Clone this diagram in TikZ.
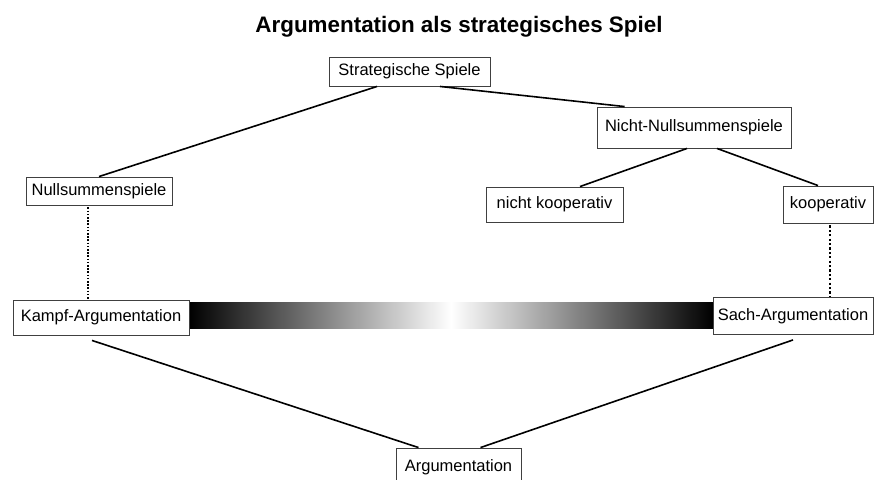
\documentclass[tikz,border=0pt]{standalone}
\usepackage{fontspec}
\setmainfont{Liberation Sans}
\begin{document}
\begin{tikzpicture}[x=1pt,y=-1pt,
  box/.style={draw=black!75,line width=0.9pt,fill=white,inner sep=0pt,
    font=\fontsize{16.5}{19}\selectfont,text=black},
  conn/.style={line width=1.6pt,black},
  dotthin/.style={line width=1.3pt,dash pattern=on 1.6pt off 1.6pt},
  dotthick/.style={line width=2.4pt,dash pattern=on 2.2pt off 2.2pt},
  title/.style={font=\fontsize{22.4}{26}\selectfont\bfseries,text=black}]
\useasboundingbox (0,0) rectangle (874,479);
\clip (0,0) rectangle (874,479);
\fill[white] (0,0) rectangle (874,479);

\node[title,anchor=base] (title) at (459,32) {Argumentation als strategisches Spiel};

% gradient bar
\shade[left color=black,right color=white] (189,302) rectangle (451,328);
\shade[left color=white,right color=black] (451,302) rectangle (713,328);

\node[box,minimum width=161pt,minimum height=29pt] (strat) at (409.5,71.5) {Strategische Spiele};
\node[box,minimum width=194pt,minimum height=41pt] (nicht) at (694,127.5) {Nicht-Nullsummenspiele};
\node[box,minimum width=146pt,minimum height=28pt] (null) at (99,191) {Nullsummenspiele};
\node[box,minimum width=137pt,minimum height=35pt] (nk) at (554.5,204.5) {nicht kooperativ};
\node[box,minimum width=90pt,minimum height=37pt] (koop) at (828,204.5) {kooperativ};
\node[box,minimum width=176pt,minimum height=35pt] (kampf) at (101,317.5) {Kampf-Argumentation};
\node[box,minimum width=160pt,minimum height=37pt] (sach) at (793,316) {Sach-Argumentation};
\node[box,minimum width=125pt,minimum height=38pt] (arg) at (458.5,467) {Argumentation};

\draw[conn] ([xshift=-32.5pt]strat.south) -- (null.north);
\draw[conn] ([xshift=30.5pt]strat.south) -- ([xshift=28pt]nicht.north west);
\draw[conn] ([xshift=-7pt]nicht.south) -- ([xshift=25.5pt]nk.north);
\draw[conn] ([xshift=23pt]nicht.south) -- ([xshift=-10pt]koop.north);
\draw[dotthin] ([xshift=-11pt,yshift=-2pt]null.south) -- ([xshift=-13pt]kampf.north);
\draw[dotthick] ([xshift=2pt,yshift=-2pt]koop.south) -- ([xshift=37pt]sach.north);
\draw[conn] ([xshift=-9pt,yshift=-5pt]kampf.south) -- ([xshift=-40pt]arg.north);
\draw[conn] ([yshift=-5pt]sach.south) -- ([xshift=22pt]arg.north);
\end{tikzpicture}
\end{document}
